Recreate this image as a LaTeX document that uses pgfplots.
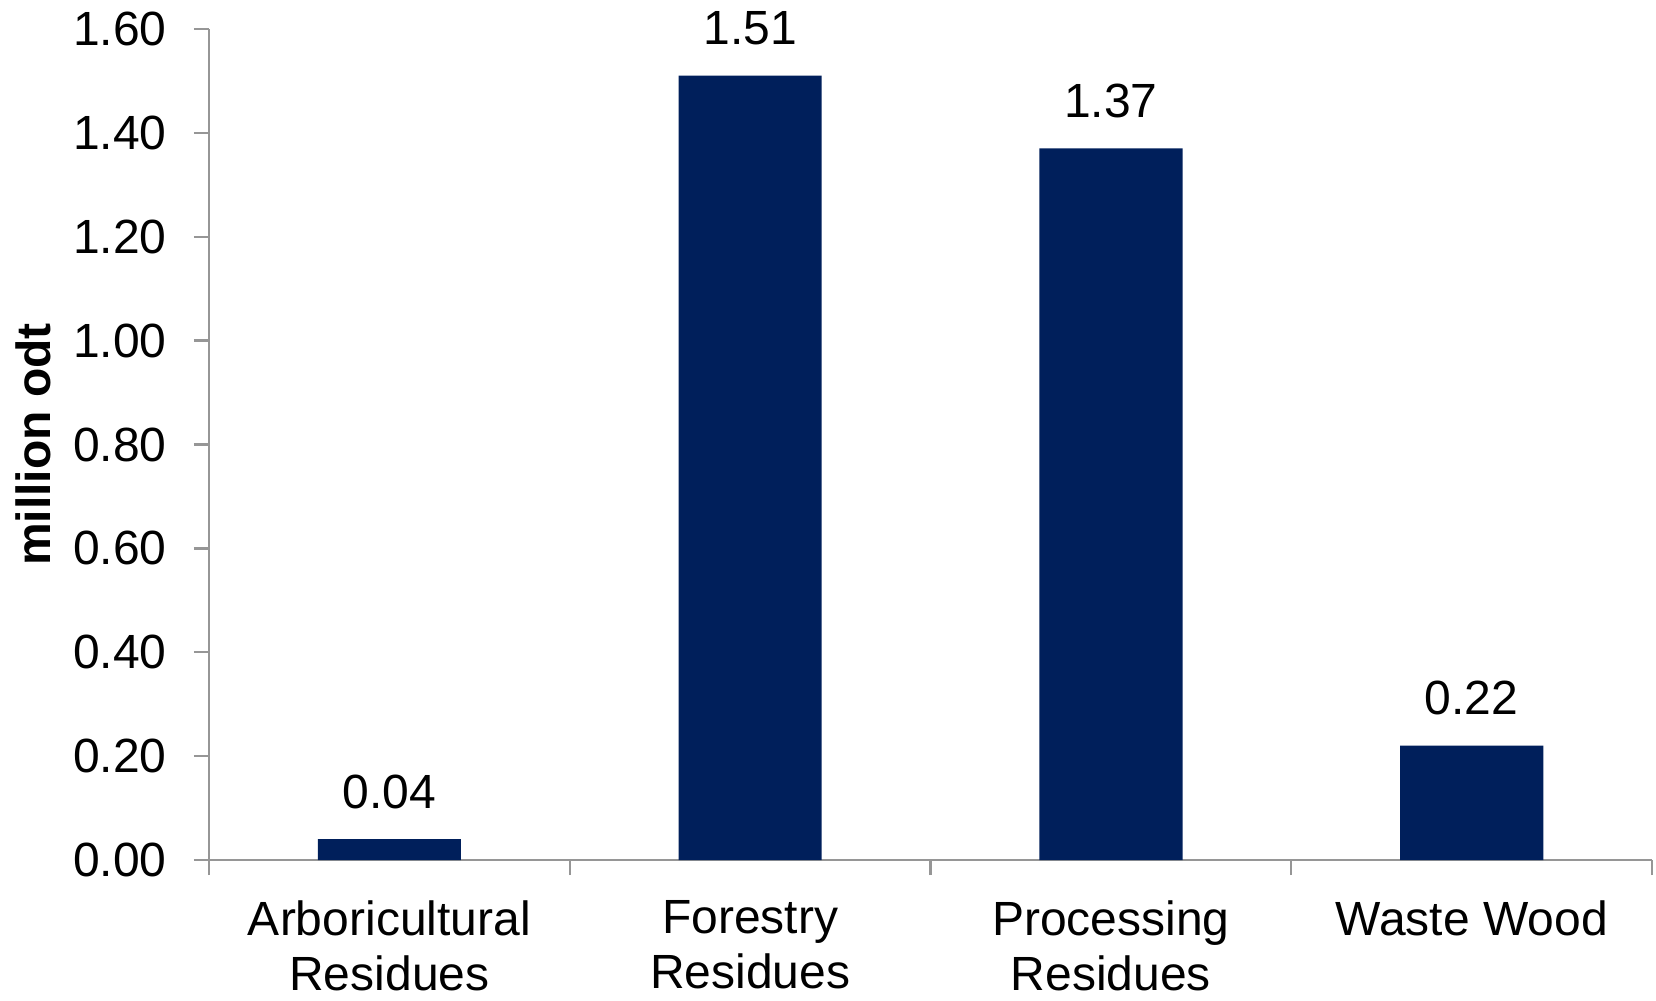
\documentclass[border=0pt]{standalone}
\usepackage{fontspec}
\setmainfont{Liberation Sans}
\usepackage{pgfplots}
\pgfplotsset{compat=1.18}
\definecolor{barblue}{RGB}{0,31,91}
\definecolor{axgray}{RGB}{150,150,150}
\begin{document}
\begin{tikzpicture}
\begin{axis}[
  scale only axis,
  width=721.5bp, height=415.5bp,
  xmin=-0.5, xmax=3.5, ymin=0, ymax=1.6,
  axis lines=left,
  axis line style={-, draw=axgray, line width=1.2bp},
  tick style={draw=axgray, line width=1.2bp},
  tick align=outside,
  major tick length=7.5bp,
  minor tick length=7.5bp,
  xtick={0,1,2,3},
  minor xtick={-0.5,0.5,1.5,2.5,3.5},
  major x tick style={draw=none},
  xticklabels={{Arboricultural\\Residues},{Forestry\\Residues},{Processing\\Residues},{Waste Wood}},
  ytick={0,0.2,0.4,0.6,0.8,1.0,1.2,1.4,1.6},
  yticklabel style={/pgf/number format/fixed, /pgf/number format/fixed zerofill, /pgf/number format/precision=2, /pgf/number format/assume math mode=true, inner sep=0pt, xshift=-13.5bp, font=\fontsize{24bp}{29bp}\selectfont},
  xticklabel style={align=center, anchor=north, inner sep=0pt, yshift=-12.5bp, font=\fontsize{24bp}{27.5bp}\selectfont},
  ylabel={\textbf{million odt}},
  ylabel style={at={(axis description cs:-0.1215,0.5)}, anchor=center, inner sep=0pt, yshift=0bp, font=\fontsize{24bp}{28bp}\selectfont},
  ybar, bar width=0.397,
  nodes near coords={\pgfmathprintnumber[fixed,fixed zerofill,precision=2,assume math mode=true]{\pgfplotspointmeta}},
  nodes near coords style={anchor=south, inner sep=0pt, yshift=15bp, font=\fontsize{24bp}{29bp}\selectfont, text=black},
  clip=false,
]
\addplot[fill=barblue, draw=none] coordinates {(0,0.04) (1,1.51) (2,1.37) (3,0.22)};
\end{axis}
\path ([shift={(-104.5bp,-70bp)}]current axis.south west) rectangle ([shift={(2bp,14.5bp)}]current axis.north east);
\end{tikzpicture}
\end{document}
